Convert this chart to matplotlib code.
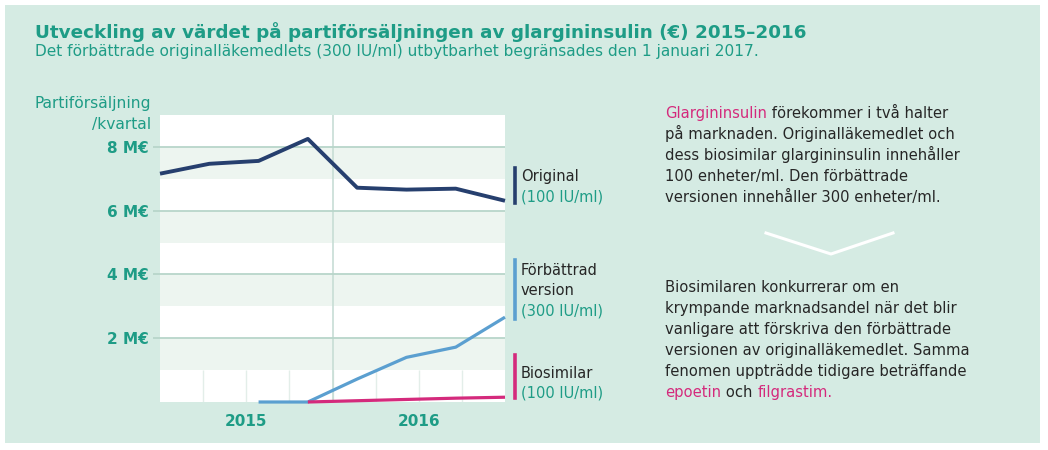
import matplotlib
matplotlib.use("Agg")
import matplotlib.pyplot as plt
from matplotlib.patches import Rectangle
from matplotlib.lines import Line2D
import numpy as np

# data (M€ per quarter, 2015 Q1 .. 2016 Q4)
quarters = [0, 1, 2, 3, 4, 5, 6, 7]
original = [7.16, 7.47, 7.56, 8.25, 6.72, 6.66, 6.69, 6.31]
forbattrad = [np.nan, np.nan, 0.0, 0.0, 0.72, 1.40, 1.72, 2.66]
biosimilar = [np.nan, np.nan, np.nan, 0.0, 0.04, 0.08, 0.12, 0.15]
years = ["2015", "2016"]
yticks = [2, 4, 6, 8]
ytick_labels = ["2 M€", "4 M€", "6 M€", "8 M€"]

BG = "#d5ebe3"
TEAL = "#1e9c86"
NAVY = "#263f6e"
LBLUE = "#5b9fd0"
MAGENTA = "#d42a7c"
TXT = "#262626"
BAND = "#edf5f0"
GRID = "#b8d5ca"

plt.rcParams['font.family'] = ['DejaVu Sans']

fig = plt.figure(figsize=(10.48, 4.5), dpi=100, facecolor="white")
W, H = 1048.0, 450.0


def fx(px):
    return px / W


def fy(py):
    return 1 - py / H


fig.patches.append(Rectangle((fx(5), fy(443)), fx(1035), (438) / H,
                             transform=fig.transFigure, facecolor=BG,
                             edgecolor="none", zorder=-5))

# titles
fig.text(fx(35), fy(38), "Utveckling av värdet på partiförsäljningen av glargininsulin (€) 2015–2016",
         color=TEAL, fontsize=13.2, fontweight="bold", va="baseline")
fig.text(fx(35), fy(56), "Det förbättrade originalläkemedlets (300 IU/ml) utbytbarhet begränsades den 1 januari 2017.",
         color=TEAL, fontsize=11.1, va="baseline")

# axes
ax = fig.add_axes([fx(160), fy(402), fx(345), (402 - 115) / H])
ax.set_facecolor("white")
ax.set_xlim(0, 7)
ax.set_ylim(0, 9)
for lo in range(1, 9, 2):
    ax.axhspan(lo, lo + 1, color=BAND, lw=0, zorder=0)
tick_x = np.linspace(0, 7, 9)
ax.vlines(tick_x[1:-1], 0, 1, color="#e3eee9", lw=1, zorder=1)
ax.axvline(3.5, color="#c7ddd5", lw=1.2, zorder=1)
for v in yticks:
    ax.axhline(v, color=GRID, lw=1.3, zorder=1)
for s in ax.spines.values():
    s.set_visible(False)
ax.set_xticks([])
ax.set_yticks(yticks)
ax.set_yticklabels(ytick_labels, color=TEAL, fontsize=11, fontweight="bold")
ax.tick_params(axis="y", length=5, color=GRID, width=1.3, pad=3)

ax.plot(quarters, original, color=NAVY, lw=2.8, solid_capstyle="butt", zorder=4, clip_on=False)
ax.plot(quarters, forbattrad, color=LBLUE, lw=2.3, solid_capstyle="butt", zorder=3, clip_on=False)
ax.plot(quarters, biosimilar, color=MAGENTA, lw=2.3, solid_capstyle="butt", zorder=4, clip_on=False)

for i, yr in enumerate(years):
    ax.text(1.75 + 3.5 * i, -0.6, yr, color=TEAL, fontsize=11, fontweight="bold",
            ha="center", va="center")

fig.text(fx(151), fy(108), "Partiförsäljning", color=TEAL, fontsize=11.2, ha="right", va="baseline")
fig.text(fx(151), fy(129), "/kvartal", color=TEAL, fontsize=11.2, ha="right", va="baseline")

# series labels
labels = [
    (NAVY, 168, 203, ["Original"], 181),
    (LBLUE, 260, 319, ["Förbättrad", "version"], 275),
    (MAGENTA, 355, 398, ["Biosimilar"], 378),
]
for col, top, bot, lines, base in labels:
    fig.add_artist(Line2D([fx(515), fx(515)], [fy(top), fy(bot)], color=col, lw=2.6,
                          transform=fig.transFigure))
    y = base
    for ln in lines:
        fig.text(fx(521), fy(y), ln, color=TXT, fontsize=10.5, va="baseline")
        y += 20
    fig.text(fx(521), fy(y), "(300 IU/ml)" if col == LBLUE else "(100 IU/ml)",
             color=TEAL, fontsize=10.5, va="baseline")

# right text
renderer = fig.canvas.get_renderer()


def rich_line(x_px, y_px, parts):
    x = x_px
    for txt, col in parts:
        t = fig.text(fx(x), fy(y_px), txt, color=col, fontsize=10.6, va="baseline")
        bb = t.get_window_extent(renderer)
        x += bb.width


para1 = [
    [("Glargininsulin", MAGENTA), (" förekommer i två halter", TXT)],
    [("på marknaden. Originalläkemedlet och", TXT)],
    [("dess biosimilar glargininsulin innehåller", TXT)],
    [("100 enheter/ml. Den förbättrade", TXT)],
    [("versionen innehåller 300 enheter/ml.", TXT)],
]
para2 = [
    [("Biosimilaren konkurrerar om en", TXT)],
    [("krympande marknadsandel när det blir", TXT)],
    [("vanligare att förskriva den förbättrade", TXT)],
    [("versionen av originalläkemedlet. Samma", TXT)],
    [("fenomen uppträdde tidigare beträffande", TXT)],
    [("epoetin", MAGENTA), (" och ", TXT), ("filgrastim.", MAGENTA)],
]
for i, parts in enumerate(para1):
    rich_line(665, 118 + 21 * i, parts)
for i, parts in enumerate(para2):
    rich_line(665, 292 + 21 * i, parts)

# chevron
fig.add_artist(Line2D([fx(766), fx(831), fx(893)], [fy(233), fy(254), fy(233)],
                      color="white", lw=2.2, transform=fig.transFigure))

fig.savefig("out.png", dpi=100, facecolor="white")
